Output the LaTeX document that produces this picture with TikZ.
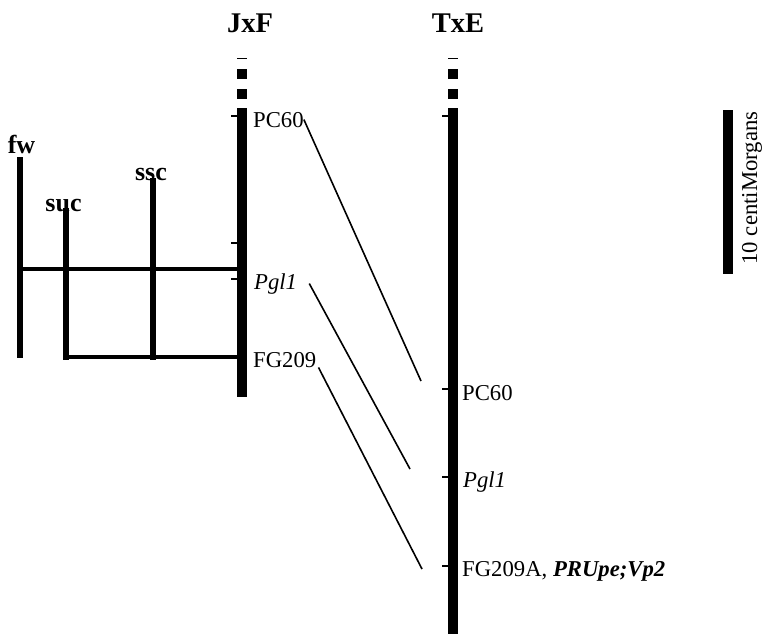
\documentclass[tikz,border=0pt]{standalone}
\usepackage{fontspec}
\setmainfont{Liberation Serif}

\tikzset{
  mapname/.style={font=\fontsize{28.5}{33}\selectfont\bfseries, inner sep=0pt, anchor=base},
  trait/.style={font=\fontsize{26}{30}\selectfont\bfseries, inner sep=0pt, anchor=base},
  marker/.style={font=\fontsize{22.7}{27}\selectfont, inner sep=0pt, anchor=base west},
  qtl/.style={line width=6pt},
  qtlbar/.style={line width=4.5pt},
  tick/.style={line width=1.5pt},
  homolog/.style={line width=1.6pt},
}

\begin{document}
\begin{tikzpicture}[x=1pt,y=-1pt]
  \useasboundingbox (0,0) rectangle (765,635);

  \node[mapname] (jxf) at (250,32) {JxF};
  \node[mapname] (txe) at (458,32) {TxE};

  % linkage groups
  \fill (236.5,108) rectangle (247,397);
  \fill (448,108) rectangle (458,634);
  \foreach \x in {236.5,448} {
    \fill (\x,57.5) rectangle +(10,1.5);
    \fill (\x,69) rectangle +(10,10);
    \fill (\x,89) rectangle +(10,10);
  }

  \draw[tick] (231,116) -- (237,116);
  \draw[tick] (231,243) -- (237,243);
  \draw[tick] (231,279) -- (237,279);
  \draw[tick] (442,116) -- (448.5,116);
  \draw[tick] (442,389) -- (448.5,389);
  \draw[tick] (442,477) -- (448.5,477);
  \draw[tick] (442,566) -- (448.5,566);

  \node[marker] (jPC60) at (253,127) {PC60};
  \node[marker] (jPgl) at (254,289) {\itshape Pgl1};
  \node[marker] (jFG) at (253,367) {FG209};

  \node[marker] (tPC60) at (462,400) {PC60};
  \node[marker] (tPgl) at (463,487) {\itshape Pgl1};
  \node[marker] (tFG) at (462,576) {FG209A, \textbf{\itshape PRUpe;Vp2}};

  % QTL
  \node[trait] (fw) at (21.5,153) {fw};
  \node[trait] (suc) at (63.5,211) {suc};
  \node[trait] (ssc) at (151,180) {ssc};

  \draw[qtl] (20,157) -- (20,358);
  \draw[qtl] (66,208) -- (66,359.5);
  \draw[qtl] (153,178) -- (153,359.5);
  \draw[qtlbar] (17,269) -- (237,269);
  \draw[qtlbar] (63,357) -- (237,357);

  % scale
  \fill (723,110) rectangle (733,274);
  \node[font=\fontsize{22.7}{27}\selectfont, inner sep=0pt, anchor=base, rotate=90] (scale) at (757,188) {10 centiMorgans};

  % homologous markers
  \coordinate (ePC60) at (421,381);
  \coordinate (ePgl) at (410,469);
  \coordinate (eFG) at (422,569);
  \draw[homolog] (jPC60.east) -- (ePC60);
  \draw[homolog] ([xshift=12pt]jPgl.east) -- (ePgl);
  \draw[homolog] ([xshift=2pt]jFG.south east) -- (eFG);

\end{tikzpicture}
\end{document}
